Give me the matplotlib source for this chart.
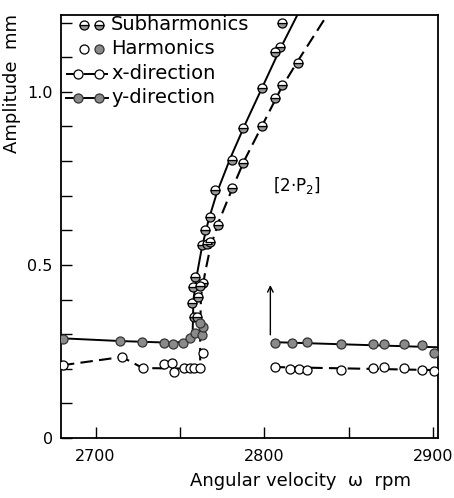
import numpy as np
import matplotlib
matplotlib.use("Agg")
import matplotlib.pyplot as plt

# ---- data (rpm, mm) ----
# drawn curves
y_line_w = [2680, 2715, 2746, 2755, 2757.5, 2758, 2760, 2763, 2767, 2772, 2780, 2789, 2799, 2809, 2819.6]
y_line_a = [0.288, 0.28, 0.275, 0.28, 0.30, 0.40, 0.47, 0.55, 0.63, 0.71, 0.81, 0.91, 1.015, 1.12, 1.222]
x_line_w = [2680, 2715.6, 2728, 2762, 2762, 2762.5, 2765, 2768, 2773, 2781, 2788, 2799, 2810, 2820, 2837.3]
x_line_a = [0.21, 0.234, 0.202, 0.20, 0.32, 0.41, 0.48, 0.55, 0.625, 0.72, 0.80, 0.905, 1.01, 1.09, 1.222]
y_right_w = [2805, 2903]
y_right_a = [0.277, 0.262]
x_right_w = [2805, 2903]
x_right_a = [0.205, 0.196]

# subharmonics (half-filled)
sub_y_w = [2757.2, 2757.8, 2759.0, 2758.5, 2763.2, 2765.0, 2767.9, 2770.9, 2781.0, 2787.5, 2798.8, 2806.5, 2809.5, 2810.7]
sub_y_a = [0.39, 0.436, 0.465, 0.35, 0.558, 0.601, 0.639, 0.717, 0.803, 0.896, 1.012, 1.116, 1.13, 1.199]
sub_x_w = [2760.0, 2760.8, 2763.8, 2762.0, 2766.0, 2767.9, 2772.7, 2781.0, 2787.5, 2798.8, 2806.5, 2810.7, 2820.2]
sub_x_a = [0.35, 0.408, 0.448, 0.44, 0.56, 0.566, 0.616, 0.723, 0.795, 0.902, 0.983, 1.02, 1.084]

# harmonics, y-direction (filled)
harm_y_w = [2680.6, 2714.5, 2727.5, 2740.6, 2746.0, 2752.0, 2756.0, 2759.0, 2763.0, 2763.8, 2762.0,
            2806.6, 2816.7, 2825.6, 2845.2, 2864.2, 2870.7, 2882.6, 2893.3, 2900.4]
harm_y_a = [0.286, 0.280, 0.277, 0.275, 0.272, 0.275, 0.289, 0.303, 0.298, 0.321, 0.332,
            0.275, 0.275, 0.277, 0.272, 0.272, 0.272, 0.272, 0.269, 0.246]
# harmonics, x-direction (open)
harm_x_w = [2680.6, 2715.6, 2728.2, 2740.6, 2745.4, 2746.5, 2752.5, 2756.0, 2758.5, 2762.0, 2763.7,
            2806.6, 2815.5, 2820.3, 2825.6, 2845.2, 2864.2, 2870.7, 2882.6, 2893.3, 2900.4]
harm_x_a = [0.211, 0.234, 0.202, 0.214, 0.217, 0.191, 0.202, 0.202, 0.202, 0.202, 0.246,
            0.205, 0.199, 0.199, 0.197, 0.197, 0.202, 0.205, 0.202, 0.197, 0.194]

legend_labels = ["Subharmonics", "Harmonics", "x-direction", "y-direction"]

fig = plt.figure(figsize=(4.54, 4.98), dpi=100)
ax = fig.add_axes([0.1344, 0.1205, 0.8304, 0.8494])

dash = (0, (6, 3))
ms = 6.5
half = dict(marker="o", ms=ms, mec="k", mew=0.9, mfc="#999999",
            mfcalt="white", fillstyle="bottom")
full = dict(marker="o", ms=ms, mec="#333333", mew=0.9, mfc="#8a8a8a")
empty = dict(marker="o", ms=ms, mec="k", mew=0.9, mfc="white")

ax.plot(y_line_w, y_line_a, color="k", lw=1.4, zorder=2)
ax.plot(x_line_w, x_line_a, color="k", lw=1.5, ls=dash, zorder=2)
ax.plot(y_right_w, y_right_a, color="k", lw=1.4, zorder=2)
ax.plot(x_right_w, x_right_a, color="k", lw=1.5, ls=dash, zorder=2)

ax.plot(sub_y_w, sub_y_a, ls="none", zorder=3, **half)
ax.plot(sub_x_w, sub_x_a, ls="none", zorder=3, **half)
ax.plot(harm_y_w, harm_y_a, ls="none", zorder=3, **full)
ax.plot(harm_x_w, harm_x_a, ls="none", zorder=3, **empty)

# arrow marking the jump down
ax.annotate("", xy=(2803.6, 0.45), xytext=(2803.6, 0.29),
            arrowprops=dict(arrowstyle="->", color="k", lw=1.0))
ax.text(2819, 0.728, "[2·P$_2$]", fontsize=12, ha="center", va="center")

# legend drawn by hand in axes coordinates
def px(x, y):
    return (x - 61) / 377, (438 - y) / 423

rows_y = [25, 49, 74, 98]
tr = ax.transAxes
for i, yy in enumerate(rows_y):
    if i == 0:
        ax.plot(*zip(px(84, yy), px(99, yy)), ls="none", transform=tr, **half)
    elif i == 1:
        ax.plot(*px(84, yy), transform=tr, **empty)
        ax.plot(*px(99, yy), transform=tr, **full)
    elif i == 2:
        ax.plot(*zip(px(66, yy), px(108, yy)), color="k", lw=1.4, ls=dash, transform=tr)
        ax.plot(*zip(px(78, yy), px(99, yy)), ls="none", transform=tr, **empty)
    else:
        ax.plot(*zip(px(66, yy), px(108, yy)), color="k", lw=1.4, transform=tr)
        ax.plot(*zip(px(78, yy), px(99, yy)), ls="none", transform=tr, **full)
    ax.text(*px(111, yy), legend_labels[i], transform=tr, fontsize=14, va="center", ha="left")

ax.set_xlim(2679.5, 2903)
ax.set_ylim(0, 1.222)
ax.set_xticks([2700, 2750, 2800, 2850, 2900])
ax.set_xticklabels(["2700", "", "2800", "", "2900"])
ax.set_yticks(np.arange(0, 1.21, 0.1))
ax.set_yticklabels(["0", "", "", "", "", "0.5", "", "", "", "", "1.0", "", ""])
ax.tick_params(axis="x", direction="in", length=8, width=1.0, labelsize=11.5, pad=8)
ax.tick_params(axis="y", direction="in", length=8, width=1.0, labelsize=11.5, pad=6)
for s in ax.spines.values():
    s.set_linewidth(1.3)

ax.set_xlabel("Angular velocity  ω  rpm", fontsize=13)
ax.xaxis.set_label_coords(0.634, -0.08)
ax.set_ylabel("Amplitude  mm", fontsize=13)
ax.yaxis.set_label_coords(-0.105, 0.839)

fig.savefig("out.png", dpi=100)
